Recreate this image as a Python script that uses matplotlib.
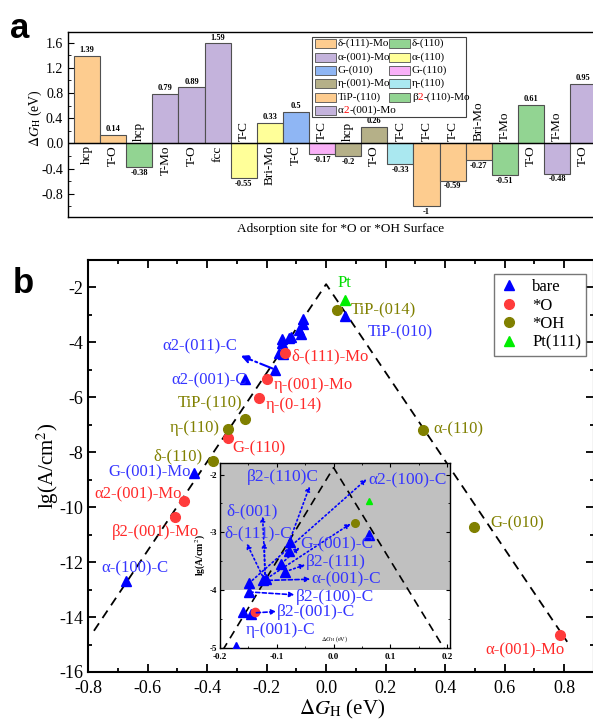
import matplotlib
matplotlib.use("Agg")
import matplotlib.pyplot as plt
from matplotlib.lines import Line2D
from matplotlib.patches import Rectangle
from matplotlib.ticker import MultipleLocator

plt.rcParams.update({
    "font.family": "Liberation Serif",
    "mathtext.fontset": "stix",
    "axes.linewidth": 1.0,
})

# ---------------- panel a data ----------------
sites = ["hcp", "T-O", "hcp", "T-Mo", "T-O", "fcc", "T-C", "Bri-Mo", "T-C", "T-C",
         "hcp", "T-O", "T-C", "T-C", "T-C", "Bri-Mo", "T-Mo", "T-O", "T-Mo", "T-O"]
dg_site = [1.39, 0.14, -0.38, 0.79, 0.89, 1.59, -0.55, 0.33, 0.5, -0.17,
           -0.2, 0.26, -0.33, -1, -0.59, -0.27, -0.51, 0.61, -0.48, 0.95]
surface = (["δ-(111)-Mo"] * 2 + ["δ-(110)"] + ["α-(001)-Mo"] * 3 + ["α-(110)"] * 2
           + ["G-(010)", "G-(110)"] + ["η-(001)-Mo"] * 2 + ["η-(110)"]
           + ["TiP-(110)"] * 3 + ["β2-(110)-Mo"] * 2 + ["α2-(001)-Mo"] * 2)
legend_order = ["δ-(111)-Mo", "δ-(110)", "α-(001)-Mo", "α-(110)", "G-(010)",
                "G-(110)", "η-(001)-Mo", "η-(110)", "TiP-(110)", "β2-(110)-Mo",
                "α2-(001)-Mo"]
surf_col = {
    "δ-(111)-Mo": "#fdcc8f", "δ-(110)": "#92d492", "α-(001)-Mo": "#c4b3dc",
    "α-(110)": "#ffff99", "G-(010)": "#8fb6f4", "G-(110)": "#f9b0f7",
    "η-(001)-Mo": "#b5b088", "η-(110)": "#aae8f0", "TiP-(110)": "#fdcc8f",
    "β2-(110)-Mo": "#92d492", "α2-(001)-Mo": "#c4b3dc",
}

# ---------------- panel b data ----------------
bare_x = [-0.671, -0.443, -0.271, -0.171, -0.159, -0.146, -0.149, -0.149, -0.125,
          -0.119, -0.085, -0.092, -0.079, -0.077, 0.062]
bare_y = [-12.67, -8.76, -5.33, -4.99, -4.38, -4.41, -4.03, -3.88, -3.83,
          -3.80, -3.68, -3.54, -3.32, -3.16, -3.05]
o_x = [-0.139, -0.199, -0.227, -0.329, -0.477, -0.508, 0.787]
o_y = [-4.38, -5.35, -6.02, -7.48, -9.77, -10.37, -14.65]
oh_x = [0.037, -0.271, -0.329, -0.379, 0.327, 0.498]
oh_y = [-2.83, -6.78, -7.16, -8.30, -7.18, -10.72]
pt_x = [0.062]
pt_y = [-2.46]
volcano_x = [-0.78, 0.0, 0.81]
volcano_y = [-14.5, -1.88, -14.9]

BLUE, RED, OLIVE, GREEN = "#0000ff", "#ff3b3b", "#808000", "#00ee00"
LBLUE, LRED = "#3535ff", "#ff2a2a"

# (text, x, y, colour, ha)
main_labels = [
    ("Pt", 0.06, -1.85, "#00dd00", "center"),
    ("TiP-(014)", 0.084, -2.83, OLIVE, "left"),
    ("TiP-(010)", 0.14, -3.65, LBLUE, "left"),
    ("δ-(111)-Mo", -0.117, -4.52, LRED, "left"),
    ("η-(001)-Mo", -0.177, -5.54, LRED, "left"),
    ("η-(0-14)", -0.204, -6.27, LRED, "left"),
    ("G-(110)", -0.316, -7.85, LRED, "left"),
    ("α2-(011)-C", -0.299, -4.16, LBLUE, "right"),
    ("α2-(001)-C", -0.266, -5.38, LBLUE, "right"),
    ("TiP-(110)", -0.282, -6.23, OLIVE, "right"),
    ("η-(110)", -0.358, -7.12, OLIVE, "right"),
    ("δ-(110)", -0.416, -8.15, OLIVE, "right"),
    ("G-(001)-Mo", -0.453, -8.74, LBLUE, "right"),
    ("α2-(001)-Mo", -0.485, -9.52, LRED, "right"),
    ("β2-(001)-Mo", -0.721, -10.9, LRED, "left"),
    ("α-(100)-C", -0.754, -12.24, LBLUE, "left"),
    ("α-(110)", 0.362, -7.18, OLIVE, "left"),
    ("G-(010)", 0.553, -10.59, OLIVE, "left"),
    ("α-(001)-Mo", 0.667, -15.22, LRED, "center"),
]

inset_labels = [
    ("β2-(110)C", -0.152, -2.04),
    ("δ-(001)", -0.189, -2.63),
    ("δ-(111)-C", -0.193, -3.01),
    ("G-(001)-C", -0.058, -3.20),
    ("β2-(111)", -0.049, -3.51),
    ("α-(001)-C", -0.039, -3.81),
    ("β2-(100)-C", -0.067, -4.12),
    ("β2-(001)-C", -0.099, -4.38),
    ("η-(001)-C", -0.154, -4.68),
    ("α2-(100)-C", 0.062, -2.10),
]
# (x0, y0, x1, y1, dotted?)
inset_arrows = [
    (-0.078, -3.16, -0.042, -2.20, True),
    (-0.120, -3.80, -0.125, -2.72, True),
    (-0.122, -3.82, -0.153, -3.19, True),
    (-0.121, -3.80, -0.122, -3.17, True),
    (-0.092, -3.54, -0.060, -3.26, True),
    (-0.118, -3.80, 0.030, -2.85, True),
    (-0.149, -3.88, 0.058, -2.08, True),
    (-0.085, -3.68, -0.050, -3.56, True),
    (-0.115, -3.83, -0.041, -3.81, False),
    (-0.149, -4.03, -0.069, -4.08, False),
    (-0.136, -4.39, -0.101, -4.37, False),
]

fig = plt.figure(figsize=(5.93, 7.22), dpi=100)
W, H = 593.0, 722.0

# ================= panel a =================
ax = fig.add_axes([68 / W, 1 - 217 / H, 530 / W, 185 / H])
xs = list(range(len(dg_site)))
ax.bar(xs, dg_site, width=1.0, color=[surf_col[s] for s in surface],
       edgecolor="#505050", linewidth=0.8, zorder=2)
ax.axhline(0, color="black", lw=1.0, zorder=3)
for x, v, s in zip(xs, dg_site, sites):
    if v >= 0:
        ax.text(x, v + 0.025, f"{v:g}", ha="center", va="bottom",
                fontsize=6, fontweight="bold")
        ax.text(x, -0.03, s, ha="center", va="top", rotation=90, fontsize=9.5)
    else:
        ax.text(x, v - 0.025, f"{v:g}", ha="center", va="top",
                fontsize=6, fontweight="bold")
        ax.text(x, 0.03, s, ha="center", va="bottom", rotation=90, fontsize=9.5)
ax.set_xlim(-0.73, 19.57)
ax.set_ylim(-1.17, 1.77)
ax.set_xticks([])
ax.set_yticks([-0.8, -0.4, 0.0, 0.4, 0.8, 1.2, 1.6])
ax.set_yticklabels(["-0.8", "-0.4", "0.0", "0.4", "0.8", "1.2", "1.6"])
ax.yaxis.set_minor_locator(MultipleLocator(0.2))
ax.tick_params(axis="y", which="both", direction="in", labelsize=10)
ax.tick_params(axis="y", which="major", length=4)
ax.tick_params(axis="y", which="minor", length=2)
ax.text(0.515, -0.065, "Adsorption site for *O or *OH Surface",
        transform=ax.transAxes, ha="center", va="center", fontsize=9.5)
fig.text(35 / W, 1 - 118 / H, r"$\Delta G_{\rm H}$ (eV)", rotation=90,
         ha="center", va="center", fontsize=10)

# hand-made legend (red "2" in the labels)
ax.add_patch(Rectangle(((312 - 68) / 530, (217 - 117) / 185), 154 / 530, 80 / 185,
                       transform=ax.transAxes, facecolor="white",
                       edgecolor="#404040", lw=0.8, zorder=5))
row_y = [43.3, 57.0, 70.3, 83.6, 97.0, 110.3]
for k, name in enumerate(legend_order):
    row, col = divmod(k, 2)
    yc = (217 - row_y[row]) / 185
    px0 = 315 if col == 0 else 389
    ax.add_patch(Rectangle(((px0 - 68) / 530, yc - 4.5 / 185), 21 / 530, 9 / 185,
                           transform=ax.transAxes, facecolor=surf_col[name],
                           edgecolor="#505050", lw=0.6, zorder=6))
    tx = ((px0 + 23) - 68) / 530
    if name[1] == "2":
        parts = [(name[0], "black"), ("2", "red"), (name[2:], "black")]
    else:
        parts = [(name, "black")]
    t = ax.text(tx, yc, parts[0][0], color=parts[0][1], transform=ax.transAxes,
                ha="left", va="center", fontsize=8, zorder=7)
    for s, c in parts[1:]:
        t = ax.annotate(s, xy=(1, 0), xycoords=t, ha="left", va="bottom",
                        color=c, fontsize=8, zorder=7)

fig.text(10 / W, 1 - 38 / H, "a", fontsize=25, fontweight="bold",
         family="Liberation Sans", va="baseline")

# ================= panel b =================
bx = fig.add_axes([88 / W, 1 - 672 / H, 506 / W, 412 / H])
bx.plot(volcano_x, volcano_y, color="black", ls=(0, (5, 3.5)), lw=1.3, zorder=1)
bx.plot(bare_x, bare_y, ls="", marker="^", ms=7.5, color=BLUE, zorder=3)
bx.plot(o_x, o_y, ls="", marker="o", ms=7, color=RED, zorder=3)
bx.plot(oh_x, oh_y, ls="", marker="o", ms=7, color=OLIVE, zorder=3)
bx.plot(pt_x, pt_y, ls="", marker="^", ms=7.5, color=GREEN, zorder=3)
for s, x, y, c, ha in main_labels:
    bx.text(x, y, s, color=c, ha=ha, va="center", fontsize=12, zorder=4)
bx.annotate("", xy=(-0.295, -4.45), xytext=(-0.171, -4.99),
            arrowprops=dict(arrowstyle="-|>", color=BLUE, lw=1.5,
                            ls="-.", mutation_scale=12))
bx.set_xlim(-0.8, 0.9)
bx.set_ylim(-16, -1)
bx.set_xticks([-0.8, -0.6, -0.4, -0.2, 0.0, 0.2, 0.4, 0.6, 0.8])
bx.set_xticklabels(["-0.8", "-0.6", "-0.4", "-0.2", "0.0", "0.2", "0.4", "0.6", "0.8"])
bx.set_yticks([-16, -14, -12, -10, -8, -6, -4, -2])
bx.set_yticklabels(["-16", "-14", "-12", "-10", "-8", "-6", "-4", "-2"])
bx.xaxis.set_minor_locator(MultipleLocator(0.1))
bx.yaxis.set_minor_locator(MultipleLocator(1))
bx.tick_params(which="both", direction="in", top=True, right=True,
               labelsize=13, width=1.3)
bx.tick_params(axis="x", pad=6)
bx.tick_params(which="major", length=6)
bx.tick_params(which="minor", length=3)
for sp in bx.spines.values():
    sp.set_linewidth(1.5)
handles = [
    Line2D([], [], ls="", marker="^", ms=7.5, color=BLUE, label="bare"),
    Line2D([], [], ls="", marker="o", ms=7, color=RED, label="*O"),
    Line2D([], [], ls="", marker="o", ms=7, color=OLIVE, label="*OH"),
    Line2D([], [], ls="", marker="^", ms=7.5, color=GREEN, label="Pt(111)"),
]
leg = bx.legend(handles=handles, loc="upper right", bbox_to_anchor=(0.985, 0.966),
                borderaxespad=0, fontsize=12, frameon=True, fancybox=False,
                edgecolor="#555555", handlelength=1.2, handletextpad=0.8,
                labelspacing=0.15, borderpad=0.3)
leg.get_frame().set_linewidth(1.0)
fig.text(342 / W, 1 - 709 / H, r"$\Delta G_{\rm H}$ (eV)", ha="center",
         va="center", fontsize=15)
fig.text(48 / W, 1 - 466 / H, r"lg(A/cm$^2$)", rotation=90, ha="center",
         va="center", fontsize=15)
fig.text(13 / W, 1 - 293 / H, "b", fontsize=25, fontweight="bold",
         family="Liberation Sans", va="baseline")

# ---------------- inset ----------------
ix = fig.add_axes([220 / W, 1 - 648 / H, 230 / W, 185 / H])
ix.axhspan(-4, -1.8, color="#c0c0c0", zorder=0, lw=0)
ix.plot(volcano_x, volcano_y, color="black", ls=(0, (5, 3.5)), lw=1.2, zorder=1)
ix.plot(bare_x, bare_y, ls="", marker="^", ms=6.5, color=BLUE, zorder=3)
ix.plot(o_x, o_y, ls="", marker="o", ms=6, color=RED, zorder=3)
ix.plot(oh_x, oh_y, ls="", marker="o", ms=5.5, color=OLIVE, zorder=3)
ix.plot(pt_x, pt_y, ls="", marker="^", ms=5, color=GREEN, zorder=3)
for x0, y0, x1, y1, dotted in inset_arrows:
    ix.annotate("", xy=(x1, y1), xytext=(x0, y0),
                arrowprops=dict(arrowstyle="-|>", color=BLUE, lw=1.2,
                                ls=":" if dotted else (0, (2.5, 1.5)),
                                mutation_scale=7, shrinkA=0, shrinkB=0))
for s, x, y in inset_labels:
    ix.text(x, y, s, color=LBLUE, ha="left", va="center", fontsize=12.5, zorder=4)
ix.text(0.002, -4.85, r"$\Delta G_{\rm H}$ (eV)", fontsize=4.5, ha="center",
        va="center")
ix.set_xlim(-0.2, 0.205)
ix.set_ylim(-5, -1.8)
ix.set_xticks([-0.2, -0.1, 0.0, 0.1, 0.2])
ix.set_xticklabels(["-0.2", "-0.1", "0.0", "0.1", "0.2"])
ix.set_yticks([-5, -4, -3, -2])
ix.set_yticklabels(["-5", "-4", "-3", "-2"])
ix.xaxis.set_minor_locator(MultipleLocator(0.05))
ix.yaxis.set_minor_locator(MultipleLocator(0.5))
ix.tick_params(which="both", direction="in", top=True, right=True,
               labelsize=6.5, pad=2)
ix.tick_params(axis="x", pad=3.5)
ix.tick_params(which="major", length=3)
ix.tick_params(which="minor", length=1.5)
for lab in ix.get_xticklabels() + ix.get_yticklabels():
    lab.set_fontweight("bold")
ix.set_ylabel(r"lg(A/cm$^2$)", fontsize=7, fontweight="bold", labelpad=1)

fig.savefig("out.png", dpi=100)
